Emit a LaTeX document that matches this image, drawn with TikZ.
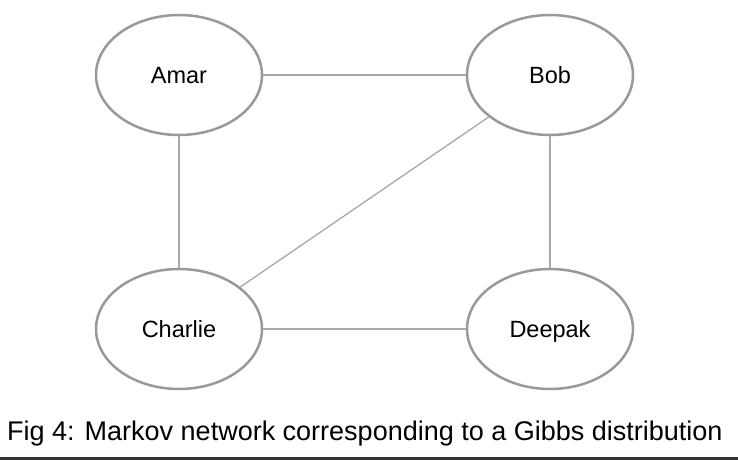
\documentclass[tikz,border=0pt]{standalone}
\usepackage{fontspec}
\setmainfont{Liberation Sans}
\usetikzlibrary{shapes.geometric}
\definecolor{ringgray}{HTML}{999999}
\definecolor{edgegray}{HTML}{A8A8A8}
\definecolor{rulegray}{HTML}{333333}

\begin{document}
\begin{tikzpicture}[x=1pt,y=-1pt,
    person/.style={ellipse,draw=ringgray,line width=2.5pt,fill=white,
      minimum width=166pt,minimum height=120pt,inner sep=0pt,
      text height=21pt,text depth=4pt,
      font=\fontsize{23.5}{28}\selectfont},
    link/.style={draw=edgegray,line width=1.3pt}]
  \useasboundingbox (0,0) rectangle (738,460);
  \node[person] (amar) at (179,75) {Amar};
  \node[person] (bob) at (550,75) {Bob};
  \node[person] (charlie) at (179,329) {Charlie};
  \node[person] (deepak) at (550,329) {Deepak};
  \foreach \a/\b in {amar/bob,amar/charlie,bob/charlie,bob/deepak,charlie/deepak}
    \draw[link] (\a) -- (\b);
  \node[anchor=base west,inner sep=0pt,font=\fontsize{27}{32}\selectfont] (caption) at (7,440)
    {Fig 4: Markov network corresponding to a Gibbs distribution};
  \coordinate (ruleleft) at (0,458.5);
  \coordinate (ruleright) at (738,458.5);
  \draw[rulegray,line width=3pt] (ruleleft) -- (ruleright);
\end{tikzpicture}
\end{document}
